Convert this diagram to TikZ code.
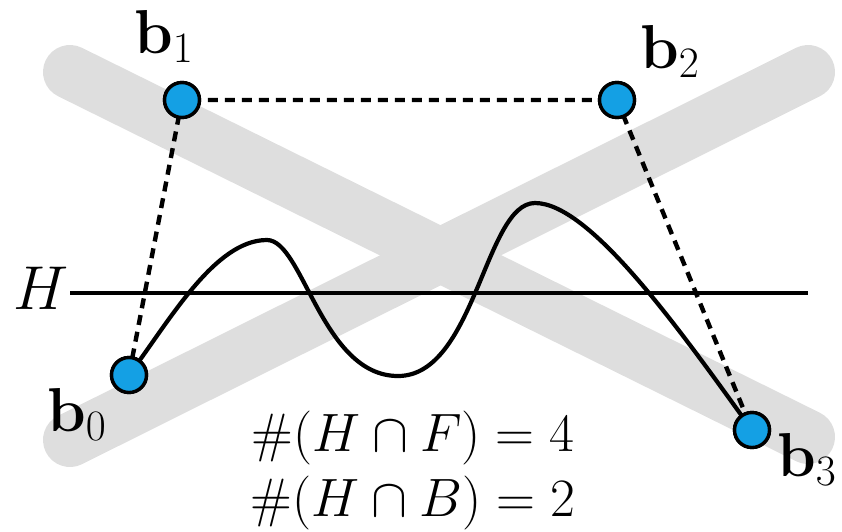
\RequirePackage{fix-cm}
\documentclass[tikz,border=0pt]{standalone}
\definecolor{bandgray}{RGB}{222,222,222}
\definecolor{ptblue}{RGB}{20,160,228}
\tikzset{
  band/.style={line width=54pt, line cap=round, draw=bandgray},
  ctrl/.style={line width=4.4pt, dash pattern=on 10pt off 7pt},
  ptnode/.style={circle, draw=black, line width=3.4pt, fill=ptblue, minimum size=35pt, inner sep=0pt},
  lbl/.style={inner sep=0pt, font=\fontsize{62}{66}\selectfont},
  eqn/.style={inner sep=0pt, anchor=base, font=\fontsize{54}{60}\selectfont}
}
\begin{document}
\begin{tikzpicture}[x=1pt, y=-1pt]
\useasboundingbox (0,0) rectangle (842,531);
% gray bands
\coordinate (fa) at (70,72);
\coordinate (fb) at (808,437);
\coordinate (ba) at (70,440);
\coordinate (bb) at (808,72);
\draw[band] (fa) -- (fb);
\draw[band] (ba) -- (bb);
% points
\node[ptnode] (b0) at (129,375) {};
\node[ptnode] (b1) at (182,100) {};
\node[ptnode] (b2) at (617,100) {};
\node[ptnode] (b3) at (752,430) {};
% H line
\coordinate (h1) at (70,293);
\coordinate (h2) at (808,293);
\draw[line width=3.8pt] (h1) -- (h2);
\node[lbl, anchor=base west] (hl) at (13,309) {$H$};
% control polygon
\draw[ctrl] (b0.center) -- (b1.center) -- (b2.center) -- (b3.center);
% curve
\coordinate (p1) at (267,240);
\coordinate (p2) at (398,376);
\coordinate (p3) at (535,203);
\draw[line width=4.2pt] (b0.center) .. controls (170,320) and (215,240) .. (p1)
  .. controls (303,240) and (322,376) .. (p2)
  .. controls (475,376) and (485,203) .. (p3)
  .. controls (590,203) and (680,330) .. (b3.center);
% redraw circles on top
\node[ptnode] at (b0) {};
\node[ptnode] at (b1) {};
\node[ptnode] at (b2) {};
\node[ptnode] at (b3) {};
% labels
\node[lbl, anchor=base west] (l1) at (134,53) {$\mathbf{b}_1$};
\node[lbl, anchor=base west] (l2) at (640,68) {$\mathbf{b}_2$};
\node[lbl, anchor=base west] (l0) at (47,431) {$\mathbf{b}_0$};
\node[lbl, anchor=base west] (l3) at (777,476) {$\mathbf{b}_3$};
% equations
\node[eqn] (e1) at (413,451) {$\#(H\cap F)=4$};
\node[eqn] (e2) at (413,516) {$\#(H\cap B)=2$};
\end{tikzpicture}
\end{document}
